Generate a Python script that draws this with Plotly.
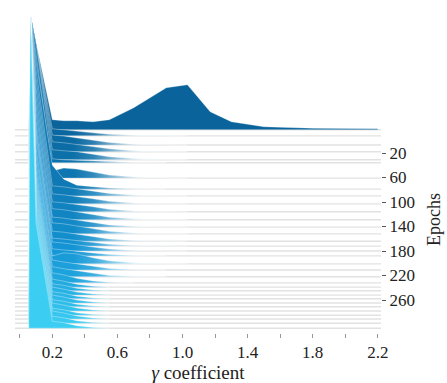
import plotly.graph_objects as go

# gamma coefficient bin centres
gamma_bins = [0.055, 0.065, 0.1, 0.2, 0.27, 0.35, 0.45, 0.55, 0.7, 0.9, 1.03, 1.17, 1.3, 1.5, 1.8, 2.2]

# epoch of each histogram (top = oldest)
epochs = [-18, -8, 7, 18, 31, 36, 61, 79, 90, 103, 116, 129, 141, 152, 164, 172, 180,
          188, 201, 211, 222, 232, 239, 245, 252, 258, 265, 271, 278, 285, 291, 298, 306]

# histogram density per epoch, one row per epoch, columns follow gamma_bins
density = [
    [0, 116, 87, 10, 9, 9, 8, 10, 22, 42, 45, 18, 8, 3, 1.5, 1],
    [0, 122, 92, 7, 6, 5, 3, 1.5, 0.6, 0.3, 0, 0, 0, 0, 0, 0],
    [0, 131, 101, 10, 9, 7, 5, 2.5, 0.8, 0.2, 0, 0, 0, 0, 0, 0],
    [0, 138, 108, 10, 9, 7.5, 5, 3, 1, 0.2, 0, 0, 0, 0, 0, 0],
    [0, 146, 116, 10, 9, 8, 5.5, 3, 1.2, 0.3, 0, 0, 0, 0, 0, 0],
    [0, 149, 119, 4, 3, 2.5, 1.5, 0.8, 0.3, 0, 0, 0, 0, 0, 0, 0],
    [0, 164, 124, 7, 10, 9, 6, 3, 1, 0.2, 0, 0, 0, 0, 0, 0],
    [0, 175, 128, 24, 10, 4, 2.5, 1.2, 0.4, 0, 0, 0, 0, 0, 0, 0],
    [0, 182, 126, 10, 9, 7, 4.5, 2.5, 0.8, 0.2, 0, 0, 0, 0, 0, 0],
    [0, 190, 125, 10, 9, 7.5, 5, 2.5, 0.9, 0.2, 0, 0, 0, 0, 0, 0],
    [0, 198, 124, 10, 9, 7.5, 5, 2.5, 0.9, 0.2, 0, 0, 0, 0, 0, 0],
    [0, 206, 123, 11, 10, 8, 5, 2.5, 0.9, 0.2, 0, 0, 0, 0, 0, 0],
    [0, 213, 122, 10, 9, 7, 4.5, 2.2, 0.8, 0.2, 0, 0, 0, 0, 0, 0],
    [0, 220, 121, 11, 10, 8, 5, 2.5, 0.9, 0.2, 0, 0, 0, 0, 0, 0],
    [0, 227, 120, 10, 9, 7, 4.5, 2.2, 0.8, 0.2, 0, 0, 0, 0, 0, 0],
    [0, 232, 118, 8, 7, 5.5, 3.5, 1.8, 0.6, 0.1, 0, 0, 0, 0, 0, 0],
    [0, 237, 118, 9, 8, 6, 4, 2, 0.6, 0.1, 0, 0, 0, 0, 0, 0],
    [0, 242, 117, 7, 6, 5, 3, 1.5, 0.5, 0, 0, 0, 0, 0, 0, 0],
    [0, 250, 116, 8, 11, 10, 6, 3, 1, 0.2, 0, 0, 0, 0, 0, 0],
    [0, 256, 115, 10, 8, 6, 3.5, 1.5, 0.5, 0, 0, 0, 0, 0, 0, 0],
    [0, 263, 114, 10, 8, 6, 3, 1.2, 0.4, 0, 0, 0, 0, 0, 0, 0],
    [0, 269, 113, 10, 8, 4.5, 1.8, 0.6, 0, 0, 0, 0, 0, 0, 0, 0],
    [0, 273, 112, 8, 6, 3, 1, 0, 0, 0, 0, 0, 0, 0, 0, 0],
    [0, 277, 111, 7, 5.5, 2.5, 0.8, 0, 0, 0, 0, 0, 0, 0, 0, 0],
    [0, 281, 110, 8, 6, 3, 1, 0, 0, 0, 0, 0, 0, 0, 0, 0],
    [0, 285, 110, 7, 5.5, 2.5, 0.8, 0, 0, 0, 0, 0, 0, 0, 0, 0],
    [0, 289, 109, 8, 6, 3, 1, 0, 0, 0, 0, 0, 0, 0, 0, 0],
    [0, 293, 108, 7, 5.5, 2.5, 0.8, 0, 0, 0, 0, 0, 0, 0, 0, 0],
    [0, 297, 108, 8, 6, 3, 1, 0, 0, 0, 0, 0, 0, 0, 0, 0],
    [0, 301, 107, 7, 5.5, 2.5, 0.8, 0, 0, 0, 0, 0, 0, 0, 0, 0],
    [0, 305, 106, 8, 6, 3, 1, 0, 0, 0, 0, 0, 0, 0, 0, 0],
    [0, 309, 105, 7, 5.5, 2.5, 0.8, 0, 0, 0, 0, 0, 0, 0, 0, 0],
    [0, 314, 105, 7, 5.5, 2.5, 0.8, 0, 0, 0, 0, 0, 0, 0, 0, 0],
]

x_tick_vals = [0.0, 0.2, 0.4, 0.6, 0.8, 1.0, 1.2, 1.4, 1.6, 1.8, 2.0, 2.2]
x_tick_text = ["", "0.2", "", "0.6", "", "1.0", "", "1.4", "", "1.8", "", "2.2"]
y_tick_vals = [20, 60, 100, 140, 180, 220, 260]

# ---- styling ----
X_MIN, X_MAX = -0.0295, 2.2195
SCALE = 1 / 0.6125  # density units -> epoch units
PLOT_TOP_PX, PLOT_BOTTOM_PX = 10, 333
EPOCH0_PX = 140.75
Y_TOP = (PLOT_TOP_PX - EPOCH0_PX) * SCALE
Y_BOTTOM = (PLOT_BOTTOM_PX - EPOCH0_PX) * SCALE
SERIF = "Liberation Serif"

stops = [(0.0, (10, 100, 155)), (0.5, (20, 148, 212)), (1.0, (60, 206, 242))]


def ridge_color(t):
    for (t0, c0), (t1, c1) in zip(stops[:-1], stops[1:]):
        if t <= t1:
            f = (t - t0) / (t1 - t0)
            return tuple(int(round(a + (b - a) * f)) for a, b in zip(c0, c1))
    return stops[-1][1]


def mix_white(c, f):
    return tuple(int(round(a + (255 - a) * f)) for a in c)


def rgb(c):
    return "rgb(%d,%d,%d)" % c


fig = go.Figure()
n = len(epochs)
for i, (ep, row) in enumerate(zip(epochs, density)):
    fig.add_trace(go.Scatter(x=[X_MIN, X_MAX], y=[ep, ep], mode="lines",
                             line=dict(color="#e2e2e2", width=1.4),
                             hoverinfo="skip", showlegend=False))
    last = max(j for j, v in enumerate(row) if v > 0)
    end = min(last + 1, len(row) - 1)
    xs = gamma_bins[: end + 1]
    ys = [ep - v * SCALE for v in row[: end + 1]]
    px = xs + xs[::-1]
    py = ys + [ep] * len(xs)
    c = ridge_color(i / (n - 1))
    kw = {}
    if i == 0:
        kw["fillcolor"] = rgb(c)
    else:
        kw["fillgradient"] = dict(type="horizontal", start=0.33, stop=0.75,
                                  colorscale=[[0, rgb(c)], [0.3, rgb(mix_white(c, 0.15))],
                                              [0.65, rgb(mix_white(c, 0.55))],
                                              [1, rgb(mix_white(c, 0.9))]])
    fig.add_trace(go.Scatter(x=px, y=py, mode="lines", fill="toself",
                             line=dict(color="rgba(255,255,255,0.55)", width=0.6),
                             hoverinfo="skip", showlegend=False, **kw))

fig.update_layout(
    width=447, height=383,
    margin=dict(l=15, r=66, t=PLOT_TOP_PX, b=383 - PLOT_BOTTOM_PX),
    paper_bgcolor="white", plot_bgcolor="white",
    font=dict(family=SERIF, size=17, color="#222"),
    xaxis=dict(range=[X_MIN, X_MAX], showgrid=False, zeroline=False, showline=False,
               automargin=False,
               tickvals=x_tick_vals, ticktext=x_tick_text, ticks="outside", ticklen=4,
               tickcolor="#999", tickfont=dict(family=SERIF, size=17, color="#222"),
               title=dict(text="<i>γ</i> coefficient",
                          font=dict(family=SERIF, size=19, color="#222"))),
    yaxis=dict(range=[Y_BOTTOM, Y_TOP], side="right", showgrid=False, zeroline=False,
               showline=False, automargin=False,
               tickvals=y_tick_vals, ticks="outside", ticklen=4,
               tickcolor="#555", tickfont=dict(family=SERIF, size=17, color="#222")),
    annotations=[dict(text="Epochs", textangle=-90, showarrow=False,
                      xref="paper", yref="paper", x=1.145, y=0.35,
                      xanchor="center", yanchor="middle",
                      font=dict(family=SERIF, size=18, color="#222"))],
)

fig.write_html("out.html")
